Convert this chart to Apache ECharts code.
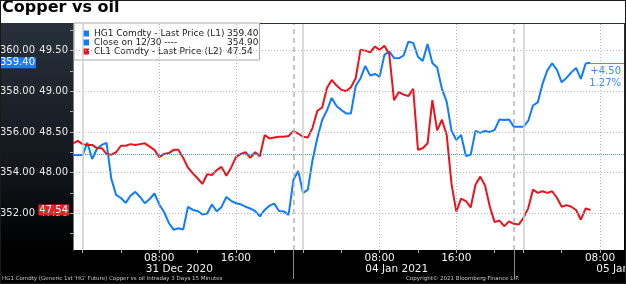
<!DOCTYPE html>
<html><head><meta charset="utf-8">
<script src="https://cdn.jsdelivr.net/npm/echarts/dist/echarts.min.js"></script>
<style>
html,body{margin:0;padding:0;width:626px;height:284px;overflow:hidden;background:#fff}
#wrap{position:relative;width:626px;height:284px;background:linear-gradient(to bottom,#fff 0,#fff 23px,#28313b 23px,#12161c 170px,#000 250px,#000 100%)}
#chart{position:absolute;left:0;top:0;width:626px;height:284px}
#frame{position:absolute;left:0;top:0;width:626px;height:284px;box-sizing:border-box;border:1px solid #1a1a1a;pointer-events:none}
</style></head>
<body><div id="wrap"><div id="chart"></div><div id="frame"></div></div>
<script>
// ---- data (30-minute samples of trading time, starting at session open 30 Dec 23:00) ----
const stepHours = 0.5;
const copperPrice = [
354.87,354.87,354.87,355.47,354.67,355.17,355.36,355.46,353.69,352.90,
352.75,352.51,352.86,353.05,352.80,352.49,352.70,352.97,352.43,352.06,
351.52,351.19,351.26,351.20,352.31,352.16,352.11,351.94,351.99,352.43,
352.09,352.31,352.80,352.61,352.49,352.44,352.32,352.23,352.11,351.84,
352.16,352.37,352.47,352.11,352.09,351.92,353.64,354.08,353.00,353.15,
354.62,355.70,356.59,357.06,357.67,357.28,357.08,356.91,356.91,358.26,
358.63,359.25,358.78,358.85,358.72,359.79,359.96,359.64,359.62,359.76,
360.44,360.38,359.70,359.49,360.33,359.39,359.17,358.12,357.48,356.05,
355.61,355.85,354.82,354.87,356.05,355.95,356.05,356.00,356.10,356.61,
356.59,356.61,356.26,356.26,356.25,356.54,357.30,357.45,358.36,359.03,
359.38,359.05,358.44,358.66,358.93,359.15,358.61,359.37,359.40
];
const oilPrice = [
48.36,48.39,48.35,48.34,48.34,48.30,48.30,48.23,48.22,48.25,
48.33,48.33,48.35,48.34,48.35,48.36,48.32,48.28,48.19,48.23,
48.24,48.28,48.28,48.18,48.06,47.99,47.93,47.86,47.98,47.97,
48.03,48.07,47.96,48.06,48.19,48.23,48.25,48.18,48.25,48.20,
48.46,48.42,48.43,48.44,48.44,48.45,48.51,48.48,48.44,48.43,
48.55,48.76,48.80,49.04,49.14,49.07,49.02,49.00,49.05,49.16,
49.51,49.50,49.48,49.55,49.51,49.56,49.46,48.89,48.99,48.96,
48.94,49.03,48.28,48.30,48.36,48.89,48.52,48.65,48.46,47.86,
47.52,47.68,47.65,47.57,47.85,47.95,47.84,47.58,47.39,47.41,
47.34,47.40,47.37,47.36,47.44,47.56,47.79,47.75,47.77,47.75,
47.77,47.69,47.58,47.60,47.58,47.54,47.42,47.56,47.54
];
const copperLast = 359.40;
const copperClose = 354.90;
const oilLast = 47.54;
const changeText = '+4.50\n1.27%';

const copperName = 'HG1 Comdty - Last Price (L1)';
const closeName = 'Close on 12/30 ----';
const oilName = 'CL1 Comdty - Last Price (L2)';
const legendValues = {};
legendValues[copperName] = '359.40';
legendValues[closeName] = '354.90';
legendValues[oilName] = '47.54';

// axis ticks (x in trading hours since session open)
const xMax = 57.5;
const timeTickHours = [9, 17, 32, 40, 55];
const timeTickLabels = ['08:00', '16:00', '08:00', '16:00', '08:00'];
const fourHourTicks = [1, 5, 9, 13, 17, 21, 24, 28, 32, 36, 40, 44, 47, 51, 55];
const sessionBreakHours = [23, 46];
const midnightHours = [1, 24, 47];
const dateLabelHours = [7.6, 30.5, 54.6];
const dateLabels = ['31 Dec 2020', '04 Jan 2021', '05 Jan 2021'];
const copperTicks = [352, 354, 356, 358, 360];
const copperMinorTicks = [351, 352, 353, 354, 355, 356, 357, 358, 359, 360, 361];
const oilTicks = [47.5, 48, 48.5, 49, 49.5];
const oilMinorTicks = [47.25, 47.5, 47.75, 48, 48.25, 48.5, 48.75, 49, 49.25, 49.5, 49.75];
const copperRange = [350.19, 361.31];
const oilRange = [47.0475, 49.8275];

const footerLeft = "HG1 Comdty (Generic 1st 'HG' Future) Copper vs oil Intraday 3 Days 15 Minutes";
const footerRight = 'Copyright\u00A9 2021 Bloomberg Finance L.P.';

// ---- build ----
const F = 'DejaVu Sans';
const BLUE = '#0f7bff';
const RED = '#e8141e';
const hours = copperPrice.map((_, i) => i * stepHours);
const copperData = copperPrice.map((v, i) => [hours[i], v]);
const oilData = oilPrice.map((v, i) => [hours[i], v]);
const lastHour = hours[hours.length - 1];

const dotted = {type: [1, 2], color: '#b8b8b8', width: 1};
const gridLines = []
  .concat(copperTicks.map(v => ({yAxis: v, lineStyle: dotted})))
  .concat([{yAxis: copperClose, lineStyle: {type: [1, 1], color: '#3a9aff', width: 1}}])
  .concat(timeTickHours.map(v => ({xAxis: v, lineStyle: dotted})))
  .concat(sessionBreakHours.map(v => ({xAxis: v, lineStyle: {type: [5, 4], color: '#b4b4b4', width: 1.5}})))
  .concat(midnightHours.map(v => ({xAxis: v, lineStyle: {type: 'solid', color: '#cfcfcf', width: 1.5}})));

const chart = echarts.init(document.getElementById('chart'), null, {renderer: 'canvas'});
chart.setOption({
  animation: false,
  backgroundColor: 'transparent',
  textStyle: {fontFamily: F},
  title: [
    {text: 'Copper vs oil', left: 2, top: 0, padding: 0,
     textStyle: {fontFamily: F, fontWeight: 'bold', fontSize: 16, color: '#000'}},
    {text: footerLeft, left: 2, top: 276, padding: 0,
     textStyle: {fontFamily: F, fontWeight: 'normal', fontSize: 5.5, color: '#c8c8c8'}},
    {text: footerRight, left: 406, top: 276, padding: 0,
     textStyle: {fontFamily: F, fontWeight: 'normal', fontSize: 5.5, color: '#c8c8c8'}}
  ],
  legend: {
    orient: 'vertical', left: 74, top: 23, padding: [6, 1, 4, 9], itemGap: 0,
    backgroundColor: '#fff', borderColor: '#a8a8a8', borderWidth: 1,
    icon: 'rect', itemWidth: 6, itemHeight: 6,
    data: [copperName, closeName, oilName],
    formatter: name => '{n|' + name + '}{v|' + legendValues[name] + '}',
    textStyle: {
      fontFamily: F, fontSize: 9, color: '#222',
      rich: {
        n: {fontFamily: F, fontSize: 9, lineHeight: 12, width: 133, color: '#222'},
        v: {fontFamily: F, fontSize: 9, lineHeight: 12, color: '#222'}
      }
    }
  },
  grid: {left: 73, right: 2, top: 24, bottom: 34, show: true, backgroundColor: '#fff', borderWidth: 0,
         containLabel: false, outerBoundsMode: 'none'},
  xAxis: [
    {type: 'value', min: 0, max: xMax, position: 'bottom',
     axisLine: {show: false}, splitLine: {show: false},
     axisTick: {show: true, customValues: fourHourTicks, length: 3, lineStyle: {color: '#aaa'}},
     axisLabel: {customValues: timeTickHours, color: '#f2f2f2', fontSize: 10.5, margin: 3,
       formatter: v => timeTickLabels[timeTickHours.indexOf(v)]}},
    {type: 'value', min: 0, max: xMax, position: 'bottom',
     axisLine: {show: false}, splitLine: {show: false},
     axisTick: {show: true, customValues: sessionBreakHours, length: 29, lineStyle: {color: '#8a8a8a'}},
     axisLabel: {customValues: dateLabelHours, color: '#f2f2f2', fontSize: 10.5, margin: 14, align: 'left',
       formatter: v => dateLabels[dateLabelHours.indexOf(v)]}}
  ],
  yAxis: [
    {type: 'value', position: 'left', offset: 34, min: copperRange[0], max: copperRange[1],
     axisLine: {show: true, lineStyle: {color: '#7a7a7a'}}, splitLine: {show: false},
     axisTick: {show: true, customValues: copperMinorTicks, length: 3, lineStyle: {color: '#aaa'}},
     axisLabel: {customValues: copperTicks, color: '#e8e8e8', fontSize: 10, margin: 4,
       formatter: v => v.toFixed(2)}},
    {type: 'value', position: 'left', offset: 0, min: oilRange[0], max: oilRange[1],
     axisLine: {show: true, lineStyle: {color: '#7a7a7a'}}, splitLine: {show: false},
     axisTick: {show: true, customValues: oilMinorTicks, length: 3, lineStyle: {color: '#aaa'}},
     axisLabel: {customValues: oilTicks, color: '#e8e8e8', fontSize: 10, margin: 5,
       formatter: v => v.toFixed(2)}}
  ],
  series: [
    {name: 'grid', type: 'line', data: [], z: 1, silent: true, xAxisIndex: 0, yAxisIndex: 0,
     markLine: {silent: true, symbol: ['none', 'none'], label: {show: false}, animation: false,
       emphasis: {disabled: true}, data: gridLines}},
    {name: copperName, type: 'line', data: copperData, xAxisIndex: 0, yAxisIndex: 0,
     showSymbol: false, symbol: 'none', z: 3,
     lineStyle: {color: BLUE, width: 2}, itemStyle: {color: BLUE},
     markLine: {silent: true, symbol: ['none', 'none'], animation: false, emphasis: {disabled: true},
       data: [
         {yAxis: copperLast, lineStyle: {width: 0},
          label: {show: true, position: 'start', distance: 37, formatter: copperLast.toFixed(2),
            backgroundColor: '#1e7bff', color: '#fff', fontSize: 10, lineHeight: 11, padding: [0, 1, 0, 1]}},
         [{coord: [lastHour, copperLast], lineStyle: {color: '#3a9aff', width: 1, type: 'solid'},
           label: {show: true, position: 'insideEndBottom', distance: 3, formatter: changeText,
             color: '#3a8cff', fontSize: 10, lineHeight: 12, align: 'right'}},
          {coord: [xMax, copperLast]}]
       ]}},
    {name: closeName, type: 'line', data: [], xAxisIndex: 0, yAxisIndex: 0,
     lineStyle: {color: BLUE}, itemStyle: {color: BLUE}},
    {name: oilName, type: 'line', data: oilData, xAxisIndex: 0, yAxisIndex: 1,
     showSymbol: false, symbol: 'none', z: 4,
     lineStyle: {color: RED, width: 2}, itemStyle: {color: RED},
     markLine: {silent: true, symbol: ['none', 'none'], animation: false, emphasis: {disabled: true},
       data: [
         {yAxis: oilLast, lineStyle: {width: 0},
          label: {show: true, position: 'start', distance: 4, formatter: oilLast.toFixed(2),
            backgroundColor: '#e8202a', color: '#fff', fontSize: 10, lineHeight: 11, padding: [0, 1, 0, 1]}}
       ]}}
  ]
});
</script></body></html>
